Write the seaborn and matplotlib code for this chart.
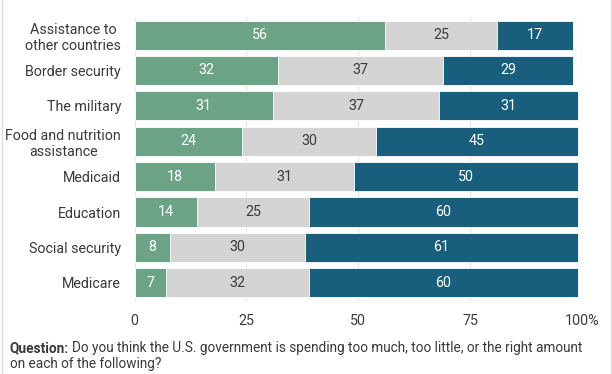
import pandas as pd
import numpy as np
import matplotlib
matplotlib.use("Agg")
import matplotlib.pyplot as plt
import seaborn as sns
from matplotlib.lines import Line2D

categories = ["Assistance to\nother countries", "Border security", "The military",
              "Food and nutrition\nassistance", "Medicaid", "Education",
              "Social security", "Medicare"]
too_much = [56, 32, 31, 24, 18, 14, 8, 7]
about_right = [25, 37, 37, 30, 31, 25, 30, 32]
too_little = [17, 29, 31, 45, 50, 60, 61, 60]

green = "#6ca387"
grey = "#d4d4d4"
blue = "#195f7d"
txt = "#3a3a3a"
fs = 10.3

df = pd.DataFrame({"cat": categories, "too_much": too_much,
                   "about_right": about_right, "too_little": too_little})
df["c1"] = df["too_much"]
df["c2"] = df["too_much"] + df["about_right"]
df["c3"] = df["c2"] + df["too_little"]

sns.set_style("white")
plt.rcParams["font.family"] = ["Roboto", "DejaVu Sans"]

fig = plt.figure(figsize=(6.12, 3.74), dpi=100)
ax = fig.add_axes([0.2198, 0.1965, 0.951 - 0.2198, 0.9537 - 0.1965])

for col, c in [("c3", blue), ("c2", grey), ("c1", green)]:
    sns.barplot(data=df, y="cat", x=col, orient="h", color=c, width=0.82,
                edgecolor="white", linewidth=0.6, saturation=1, ax=ax)

for i, row in df.iterrows():
    ax.text(row["c1"] / 2, i, str(row["too_much"]), ha="center", va="center",
            color="white", fontsize=fs)
    ax.text((row["c1"] + row["c2"]) / 2, i, str(row["about_right"]), ha="center",
            va="center", color=txt, fontsize=fs)
    ax.text((row["c2"] + row["c3"]) / 2, i, str(row["too_little"]), ha="center",
            va="center", color="white", fontsize=fs)

ax.set_xlim(0, 100)
ax.set_ylim(7.5, -0.5)
ax.set_xticks([0, 25, 50, 75, 100])
ax.set_xticklabels(["0", "25", "50", "75", "100%"])
ax.set_xlabel("")
ax.set_ylabel("")
ax.xaxis.grid(True, color="#e6e6e6", linewidth=1)
ax.set_axisbelow(True)
for s in ax.spines.values():
    s.set_visible(False)
ax.tick_params(axis="both", length=0, labelsize=fs, colors=txt)
ax.tick_params(axis="y", pad=9.7)
ax.tick_params(axis="x", pad=9.5)
for lab in ax.get_yticklabels():
    lab.set_multialignment("center")

t1 = fig.text(10 / 612, 1 - 352 / 374, "Question:", fontsize=9.8, fontweight="bold",
              color=txt, va="baseline")
fig.canvas.draw()
bb = t1.get_window_extent()
fig.text((bb.x1 + 3) / 612, 1 - 352 / 374,
         "Do you think the U.S. government is spending too much, too little, or the right amount",
         fontsize=9.8, color=txt, va="baseline")
fig.text(10 / 612, 1 - 368 / 374, "on each of the following?", fontsize=9.8,
         color=txt, va="baseline")

fig.add_artist(Line2D([1.5 / 612, 1.5 / 612], [0, 1], color="#dddddd", linewidth=1))
fig.add_artist(Line2D([610.5 / 612, 610.5 / 612], [0, 1], color="#dddddd", linewidth=1))

fig.savefig("out.png", dpi=100)
